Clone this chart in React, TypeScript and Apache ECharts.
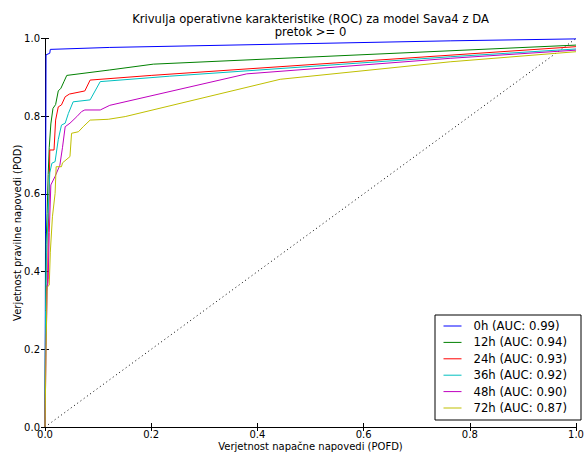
import React, { useEffect, useRef } from "react";
import * as echarts from "echarts";

const TITLE_LINE_1 = "Krivulja operativne karakteristike (ROC) za model Sava4 z DA";
const TITLE_LINE_2 = "pretok >= 0";
const X_NAME = "Verjetnost napačne napovedi (POFD)";
const Y_NAME = "Verjetnost pravilne napovedi (POD)";

const seriesNames = [
  "0h (AUC: 0.99)",
  "12h (AUC: 0.94)",
  "24h (AUC: 0.93)",
  "36h (AUC: 0.92)",
  "48h (AUC: 0.90)",
  "72h (AUC: 0.87)",
];
const seriesColors = ["#0000ff", "#008000", "#ff0000", "#00bfbf", "#bf00bf", "#bfbf00"];

const roc0h: number[][] = [
  [0, 0], [0.001, 0.5], [0.002, 0.958], [0.009, 0.962], [0.01, 0.972],
  [0.122, 0.977], [0.763, 0.994], [1, 0.999],
];
const roc12h: number[][] = [
  [0, 0], [0.001, 0.25], [0.002, 0.47], [0.004, 0.55], [0.006, 0.65], [0.008, 0.72],
  [0.011, 0.78], [0.015, 0.82], [0.02, 0.83], [0.025, 0.865], [0.03, 0.872],
  [0.036, 0.89], [0.041, 0.905], [0.122, 0.919], [0.204, 0.934], [1, 0.983],
];
const roc24h: number[][] = [
  [0, 0], [0.001, 0.2], [0.003, 0.36], [0.005, 0.37], [0.006, 0.5], [0.008, 0.6],
  [0.009, 0.713], [0.017, 0.713], [0.02, 0.79], [0.025, 0.824], [0.031, 0.829],
  [0.038, 0.85], [0.046, 0.857], [0.075, 0.865], [0.085, 0.893], [0.2, 0.905],
  [1, 0.979],
];
const roc36h: number[][] = [
  [0, 0], [0.001, 0.3], [0.003, 0.45], [0.006, 0.55], [0.009, 0.654], [0.013, 0.679],
  [0.019, 0.683], [0.025, 0.74], [0.031, 0.777], [0.038, 0.782], [0.044, 0.807],
  [0.053, 0.837], [0.085, 0.842], [0.104, 0.889], [0.235, 0.903], [0.763, 0.953],
  [1, 0.973],
];
const roc48h: number[][] = [
  [0, 0], [0.002, 0.2], [0.004, 0.35], [0.006, 0.38], [0.008, 0.5], [0.011, 0.623],
  [0.019, 0.645], [0.028, 0.674], [0.033, 0.72], [0.038, 0.773], [0.047, 0.782],
  [0.06, 0.799], [0.069, 0.812], [0.075, 0.816], [0.104, 0.816], [0.122, 0.828],
  [0.38, 0.909], [0.763, 0.949], [1, 0.97],
];
const roc72h: number[][] = [
  [0, 0], [0.002, 0.2], [0.004, 0.36], [0.008, 0.365], [0.01, 0.45], [0.014, 0.541],
  [0.019, 0.601], [0.021, 0.67], [0.031, 0.67], [0.033, 0.68], [0.047, 0.696],
  [0.05, 0.756], [0.063, 0.76], [0.072, 0.773], [0.085, 0.79], [0.119, 0.792],
  [0.151, 0.799], [0.443, 0.895], [0.763, 0.94], [1, 0.966],
];
const rocData = [roc0h, roc12h, roc24h, roc36h, roc48h, roc72h];
const diagonal: number[][] = [[0, 0], [1, 1]];

const FONT = "DejaVu Sans";

export default function App() {
  const ref = useRef<HTMLDivElement>(null);
  useEffect(() => {
    if (!ref.current) return;
    const chart = echarts.init(ref.current, null, { renderer: "svg" });
    const axisCommon = {
      type: "value" as const,
      min: 0,
      max: 1,
      interval: 0.2,
      splitLine: { show: false },
      axisLine: { show: true, lineStyle: { color: "#000", width: 1 } },
      axisTick: { show: true, inside: true, length: 4, lineStyle: { color: "#000" } },
    };
    const labelCommon = {
      color: "#000",
      fontFamily: FONT,
      fontSize: 10,
      formatter: (v: number) => v.toFixed(1),
    };
    chart.setOption({
      animation: false,
      backgroundColor: "#fff",
      title: {
        text: TITLE_LINE_1 + "\n" + TITLE_LINE_2,
        left: 310.5,
        top: 13,
        padding: 0,
        textAlign: "center",
        textStyle: {
          fontFamily: FONT,
          fontSize: 11.6,
          fontWeight: "normal",
          color: "#000",
          lineHeight: 12.5,
        },
      },
      grid: {
        left: 45,
        right: 9,
        top: 38.5,
        bottom: 27,
        containLabel: false,
        outerBoundsMode: "none",
      },
      legend: {
        data: seriesNames,
        orient: "vertical",
        left: 435,
        top: 315,
        itemWidth: 18,
        itemHeight: 14,
        itemGap: 4.4,
        padding: [5, 14, 6, 8],
        borderColor: "#000",
        borderWidth: 1,
        backgroundColor: "#fff",
        itemStyle: { opacity: 0 },
        lineStyle: { width: 1 },
        textStyle: {
          fontFamily: FONT,
          fontSize: 11.7,
          color: "#000",
          padding: [0, 0, 0, 7],
        },
      },
      xAxis: [
        {
          ...axisCommon,
          position: "bottom",
          axisLabel: { ...labelCommon, margin: 2, lineHeight: 11 },
          name: X_NAME,
          nameLocation: "middle",
          nameGap: 14,
          nameMoveOverlap: false,
          nameTextStyle: { fontFamily: FONT, fontSize: 10, color: "#000", lineHeight: 11 },
        },
        {
          ...axisCommon,
          position: "top",
          axisLabel: { show: false },
        },
      ],
      yAxis: [
        {
          ...axisCommon,
          position: "left",
          axisLabel: { ...labelCommon, margin: 5 },
          name: Y_NAME,
          nameLocation: "middle",
          nameGap: 23,
          nameMoveOverlap: false,
          nameTextStyle: { fontFamily: FONT, fontSize: 10, color: "#000" },
        },
        {
          ...axisCommon,
          position: "right",
          axisLabel: { show: false },
        },
      ],
      series: [
        ...rocData.map((d, i) => ({
          type: "line",
          name: seriesNames[i],
          data: d,
          symbol: "none",
          lineStyle: { color: seriesColors[i], width: 1 },
          itemStyle: { color: seriesColors[i] },
          z: 3,
        })),
        {
          type: "line",
          name: "diag",
          data: diagonal,
          symbol: "none",
          lineStyle: { color: "#000", width: 1, type: [1, 3] },
          z: 2,
        },
      ],
    });
    return () => chart.dispose();
  }, []);
  return (
    <div
      ref={ref}
      style={{ position: "fixed", left: 0, top: 0, width: 585, height: 454 }}
    />
  );
}
